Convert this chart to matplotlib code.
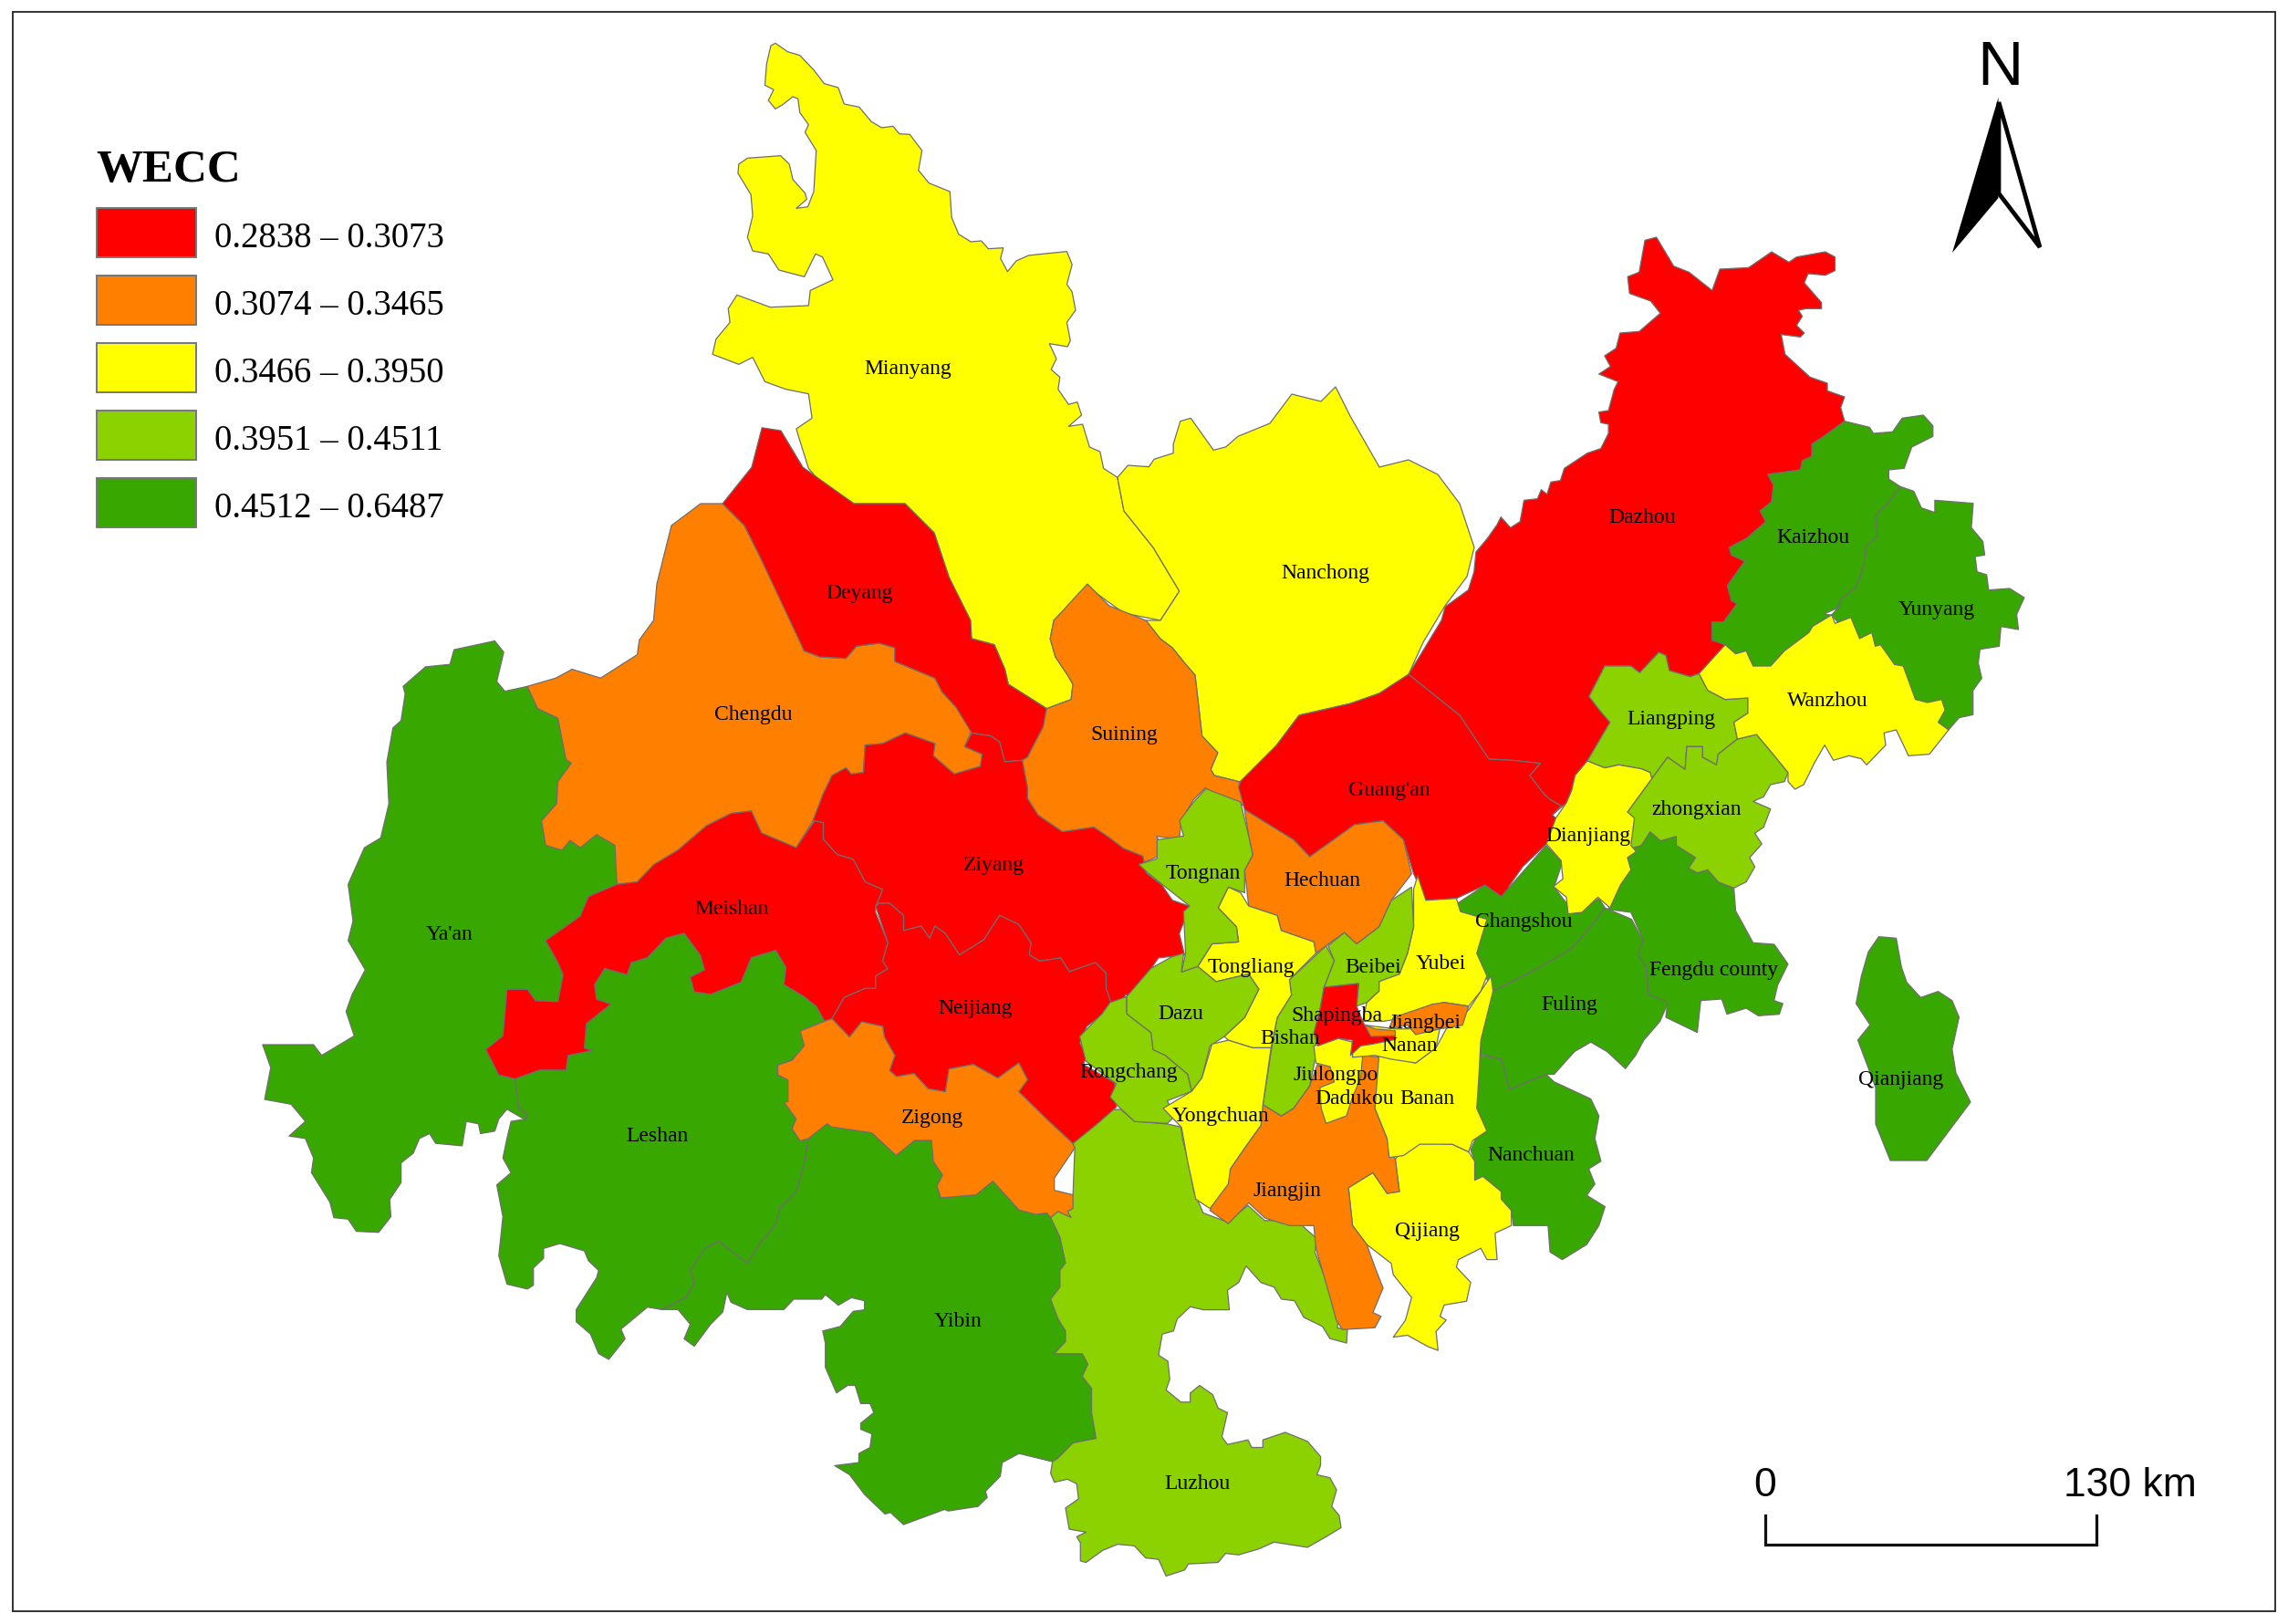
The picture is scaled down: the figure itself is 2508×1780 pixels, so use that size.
import matplotlib
matplotlib.use("Agg")
import matplotlib.pyplot as plt
from matplotlib.patches import Polygon, Rectangle

W, H = 2508, 1780
CLASS_LABELS = ["0.2838 – 0.3073", "0.3074 – 0.3465", "0.3466 – 0.3950", "0.3951 – 0.4511", "0.4512 – 0.6487"]
CLASS_COLORS = ["#ff0000", "#ff8000", "#ffff00", "#8cd200", "#38a800"]
LEGEND_TITLE = "WECC"
SCALE_LABELS = ["0", "130 km"]

# Outlines were read on several sheets; each sheet is origin x, origin y, x scale, y scale.
SHEETS = {
    "S": (0, 0, 1.6, 1.6),
    "Z": (1150, 850, 700 / 1568, 650 / 1568),
    "A": (760, 30, 600 / 1568, 1 / 3),
    "B": (1650, 650, 600 / 1568, 1 / 3),
    "C": (780, 700, 600 / 1568, 1 / 3),
    "W": (270, 680, 700 / 1568, 840 / 1568),
    "L": (870, 1230, 640 / 1568, 520 / 1568),
    "D": (1580, 250, 660 / 1568, 1 / 3),
}

YAAN = [("W", [(510,60),(610,42),(632,65),(615,125),(635,145),(690,135),(715,180),(765,200),(785,285),(798,292),(765,330),(762,375),(725,410),(735,460),(775,470),(795,450),(820,465),(860,438),(905,460),(910,540),(840,565),(820,605),(735,655),(765,700),(778,725),(765,780),(710,778),(690,755),(640,755),(630,850),(588,878),(620,930),(660,938),(670,1000),(690,1010),(685,1022),(640,1000),(620,1020),(610,1045),(575,1050),(570,1030),(540,1025),(530,1075),(465,1070),(450,1050),(425,1060),(410,1090),(380,1110),(380,1150),(352,1185),(355,1220),(325,1252),(270,1250),(250,1225),(215,1222),(205,1190),(175,1150),(160,1130),(165,1100),(145,1060),(105,1055),(145,1025),(110,990),(45,980),(60,915),(40,868),(165,868),(185,890),(265,850),(245,800),(260,765),(292,715),(250,655),(262,615),(250,540),(290,465),(330,445),(350,375),(345,290),(360,220),(380,205),(390,150),(385,135),(440,95),(500,90)])]
LESHAN = [("W", [(660,938),(720,920),(785,920),(790,890),(850,880),(830,875),(835,825),(895,785),(860,775),(855,745),(880,712),(935,725),(945,700),(985,690),(1030,650),(1075,640),(1115,685),(1125,715),(1090,730),(1100,760),(1140,765),(1215,740),(1240,690),(1300,675),(1325,710),(1320,745),(1370,770),(1400,790),(1420,820),(1360,840),(1370,870),(1340,900),(1305,910),(1305,930),(1330,940),(1330,985),(1320,985),(1350,1020),(1340,1040),(1360,1065),(1380,1060),(1370,1110),(1350,1170),(1310,1200),(1300,1235),(1260,1275),(1230,1315),(1160,1270),(1125,1285),(1090,1330),(1100,1355),(1080,1385),(1020,1410),(985,1405),(920,1450),(930,1470),(890,1512),(865,1500),(845,1460),(810,1435),(810,1410),(860,1345),(865,1330),(840,1310),(830,1290),(770,1275),(730,1285),(730,1305),(705,1325),(705,1360),(690,1368),(640,1358),(620,1300),(630,1220),(615,1155),(650,1130),(630,1100),(640,1060),(650,1025),(688,1020),(690,1008),(670,1000)])]
YIBIN = [("L", [(690,315),(715,380),(730,465),(715,490),(715,545),(690,585),(710,650),(730,690),(730,725),(700,765),(775,765),(790,800),(775,840),(800,880),(800,960),(812,1045),(750,1060),(710,1110),(695,1122),(605,1095),(560,1125),(555,1170),(515,1220),(520,1240),(495,1270),(415,1285),(405,1280),(350,1305),(295,1330),(260,1290),(245,1295),(190,1230),(150,1165),(110,1135),(175,1125),(175,1095),(205,1075),(210,1030),(180,1015),(180,995),(215,960),(205,930),(180,930),(165,870),(145,870),(115,895),(85,810),(85,730),(78,690),(125,675),(160,625),(190,620),(190,590),(155,580),(120,605),(85,570),(75,585),(0,585)]), ("W", [(1320,1410),(1230,1410),(1190,1395),(1180,1375),(1170,1415),(1140,1440),(1100,1485),(1075,1470),(1090,1440),(1060,1410),(1020,1410),(1080,1385),(1100,1355),(1090,1330),(1125,1285),(1160,1270),(1230,1315),(1260,1275),(1300,1235),(1310,1200),(1350,1170),(1370,1110),(1380,1060),(1420,1030)]), ("L", [(90,5),(100,15),(210,35),(275,110),(325,60),(370,60),(375,130),(400,175),(385,210),(395,250),(490,240),(535,195),(605,290),(650,305),(680,300)])]
LUZHOU = [("S", [(735,783),(760,760),(768,760),(777,768),(800,770),(809,772)]), ("L", [(1045,60),(1060,130),(1075,230),(1100,300),(1165,330),(1220,275),(1265,325),(1350,325),(1405,385),(1400,430),(1445,570),(1465,620),(1460,680),(1487,685),(1485,730),(1440,715),(1420,675),(1370,645),(1345,590),(1310,585),(1290,545),(1255,530),(1215,475),(1195,530),(1165,555),(1170,620),(1100,620),(1065,610),(1030,650),(1020,690),(990,700),(980,770),(1005,790),(1010,850),(1000,885),(1040,925),(1065,925),(1065,895),(1090,870),(1125,900),(1140,945),(1165,960),(1150,1040),(1165,1065),(1220,1050),(1230,1075),(1260,1075),(1260,1050),(1320,1025),(1380,1055),(1415,1105),(1415,1135),(1405,1165),(1440,1175),(1458,1215),(1445,1270),(1465,1300),(1470,1340),(1430,1370),(1380,1405),(1290,1388),(1250,1410),(1195,1430),(1160,1425),(1140,1455),(1060,1460),(1050,1480),(1000,1500),(980,1445),(945,1440),(915,1400),(870,1395),(830,1415),(785,1455),(770,1450),(770,1390),(760,1370),(785,1355),(740,1345),(730,1275),(765,1245),(760,1195),(735,1180),(700,1190),(690,1160),(695,1122),(710,1110),(750,1060),(812,1045),(800,960),(800,880),(775,840),(790,800),(775,765),(700,765),(730,725),(730,690),(710,650),(690,585),(715,545),(715,490),(730,465),(715,380),(690,315),(750,240),(755,85)])]
MIANYANG = [
    ("A", [(235,52),(270,80),(305,92),(345,140),(375,185),(415,198),(432,252),(475,262),(510,310),(540,330),(572,325),(590,350),(620,352),(655,405),(645,470),(675,512),(735,540),(740,625),(760,680),(795,705),(825,702),(845,728),(888,725),(880,760),(900,803),(925,768),(960,750),(1000,745),(1070,737),(1085,780),(1070,845),(1085,870),(1095,930),(1070,970),(1080,1030),(1072,1050),(1020,1040),(1040,1090),(1025,1125),(1050,1150),(1045,1190),(1075,1240),(1100,1232),(1112,1275),(1075,1312),(1115,1305),(1135,1380),(1165,1395),(1175,1450),(1215,1480)]),
    ("S", [(770,350),(790,375),(808,405),(795,425),(770,420),(745,402),(722,425)]),
    ("C", [(970,0),(985,60),(1020,120),(1035,150),(1030,200),(960,230),(850,150),(840,100),(810,20),(745,0)]),
    ("S", [(650,395),(640,365),(620,345),(585,345)]),
    ("A", [(360,1490),(330,1450),(300,1340),(295,1320),(340,1285),(330,1205),(265,1190),(205,1165),(170,1085),(130,1108),(55,1075),(65,1025),(105,970),(100,925),(125,880),(220,920),(330,915),(335,865),(400,830),(370,755),(350,745),(318,820),(245,798),(215,745),(170,735),(155,690),(170,620),(165,550),(128,480),(130,450),(155,430),(250,422),(275,450),(285,500),(320,545),(325,565),(295,595),(328,590),(345,540),(352,405),(320,345),(330,320),(305,280),(300,235),(285,228),(255,255),(235,268),(215,240),(230,205),(205,190),(210,120),(222,60)]),
]
NANCHONG = [("A", [(1215,1480),(1245,1440),(1305,1445),(1320,1420),(1375,1400),(1375,1370),(1395,1295),(1425,1285),(1490,1390),(1525,1380),(1560,1345)]), ("S", [(870,290),(885,270),(905,275),(915,265),(925,285),(945,320),(965,315),(985,325),(1000,345),(1010,375),(1005,395),(990,415),(975,440),(965,462),(945,475),(925,482),(890,490),(875,510),(855,535)]), ("C", [(1510,470),(1440,450),(1430,430),(1450,375),(1405,320),(1385,120),(1355,80),(1320,30),(1285,0)]), ("S", [(785,425),(795,425),(808,405),(790,375),(770,350)])]
SUINING = [("S", [(745,400),(760,415),(785,425)]), ("C", [(1285,0),(1320,30),(1355,80),(1385,120),(1405,320),(1450,375),(1430,430),(1440,450),(1510,470),(1530,550),(1450,530),(1415,490),(1380,530),(1345,600),(1340,660),(1275,650),(1300,705),(1240,735),(1235,715),(1180,690),(1140,655),(1095,620),(1005,635),(935,580),(905,525),(905,490),(890,400),(905,390),(950,290),(960,230),(1030,200),(1035,150),(1020,120),(985,60),(970,0)]), ("S", [(722,425)])]
DAZHOU = [("D", [(0,1290),(10,1245),(70,1190),(85,1130),(90,1065),(120,1020),(145,975),(155,950),(180,985),(205,965),(215,895),(250,890),(260,860),(275,875),(285,835),(310,830),(320,790),(380,740),(415,725),(435,675),(435,645),(415,640),(410,605),(435,600),(450,530),(460,505),(410,480),(440,455),(425,420),(455,395),(465,345),(515,340),(570,280),(545,240),(490,215),(485,160),(515,145),(530,40),(560,30),(605,125),(645,145),(705,205),(725,135),(800,130),(860,78),(905,112),(925,95),(1000,78),(1025,95),(1025,140),(1000,155),(955,150),(945,180),(990,245),(990,265),(950,265),(930,270),(940,290),(925,320),(945,345),(935,358),(885,350),(895,415),(960,490),(1005,510),(1005,535),(1050,555),(1040,590),(1050,635),(990,690),(965,710),(965,750),(940,765),(935,795),(850,810),(865,845),(860,900),(830,930),(845,965),(795,1020),(750,1050),(755,1075),(790,1095),(745,1175),(755,1225),(770,1235),(735,1295),(705,1295),(705,1355),(740,1370)]), ("B", [(555,265),(530,275),(470,255),(460,205),(440,195),(385,262),(360,240),(285,240),(240,340),(270,385),(300,425),(235,552),(200,600),(190,650),(175,690),(135,730),(160,700),(130,680),(110,660),(70,600),(100,560),(20,550)]), ("S", [(1020,520),(1000,490),(965,462)])]
GUANGAN = [("S", [(850,535),(875,510),(890,490),(925,482),(945,475),(965,462),(1000,490),(1020,520)]), ("B", [(20,550),(100,560),(70,600),(110,660),(130,680),(160,700),(135,730),(145,740),(118,825),(50,900),(10,965),(10,990)]), ("Z", [(1110,320),(1070,290),(1000,325),(925,330),(895,260),(870,170),(820,120),(750,130),(640,215),(600,170),(480,90),(465,30)])]
CHENGDU = [("S", [(480,345),(495,345),(510,360),(520,380),(545,430)]), ("C", [(265,40),(310,60),(385,65),(415,25),(480,15),(525,30),(525,75),(640,130),(660,175),(700,225),(745,300),(725,355),(775,380),(770,420),(695,445),(635,385),(640,345),(555,310),(490,345),(440,350),(435,440),(400,445),(385,425),(345,450),(320,510),(290,600)]), ("W", [(1350,465),(1265,435),(1240,390),(1190,395),(1130,420),(1060,470),(1000,500),(960,535),(910,540),(905,460),(860,438),(820,465),(795,450),(775,470),(735,460),(725,410),(762,375),(765,330),(798,292),(785,285),(765,200),(715,180),(690,135),(760,118),(800,100),(870,118),(960,70),(965,40),(1000,0)]), ("S", [(450,400),(460,360)])]
DEYANG = [("S", [(522,293),(535,295),(550,320),(585,345),(620,345),(640,365),(650,395),(665,425)]), ("C", [(745,0),(810,20),(840,100),(850,150),(960,230),(950,290),(905,390),(890,400),(840,405),(825,340),(800,320),(770,315),(745,310),(700,225),(660,175),(640,130),(525,75),(525,30),(480,15),(415,25),(385,65),(310,60),(265,40)]), ("S", [(520,380),(510,360),(495,345),(515,320)])]
ZIYANG = [("C", [(290,600),(320,510),(345,450),(385,425),(400,445),(435,440),(440,350),(490,345),(555,310),(640,345),(635,385),(695,445),(770,420),(775,380),(725,355),(745,310),(770,315),(800,320),(825,340),(840,405),(890,400),(905,490),(905,525),(935,580),(1005,635),(1095,620),(1140,655),(1180,690),(1235,715),(1245,770),(1290,810),(1320,860),(1370,880),(1340,970),(1355,1040),(1280,1050),(1250,1100),(1245,1150),(1220,1190),(1185,1170),(1180,1205),(1145,1200),(1130,1150),(1130,1100),(1100,1065),(1025,1095),(1000,1050),(940,1060),(910,1040),(915,1000),(880,940),(825,910),(780,990),(710,1040),(670,970),(640,945),(625,985),(600,945),(550,960),(550,910),(510,870),(480,870),(470,880),(490,825),(440,800),(405,725),(360,710),(320,660),(320,605)])]
MEISHAN = [("W", [(1395,410),(1350,465),(1265,435),(1240,390),(1190,395),(1130,420),(1060,470),(1000,500),(960,535),(910,540),(840,565),(820,605),(735,655),(765,700),(778,725),(765,780),(710,778),(690,755),(640,755),(630,850),(588,878),(620,930),(660,938),(720,920),(785,920),(790,890),(850,880),(830,875),(835,825),(895,785),(860,775),(855,745),(880,712),(935,725),(945,700),(985,690),(1030,650),(1075,640),(1115,685),(1125,715),(1090,730),(1100,760),(1140,765),(1215,740),(1240,690),(1300,675),(1325,710),(1320,745),(1370,770),(1400,790),(1420,820)]), ("C", [(345,1250),(380,1180),(440,1150),(470,1150),(470,1110),(505,1085),(490,1060),(505,1000),(470,900),(470,880),(490,825),(440,800),(405,725),(360,710),(320,660),(320,605)])]
NEIJIANG = [("C", [(470,880),(480,870),(510,870),(550,910),(550,960),(600,945),(625,985),(640,945),(670,970),(710,1040),(780,990),(825,910),(880,940),(915,1000),(910,1040),(940,1060),(1000,1050),(1025,1095),(1100,1065),(1130,1100),(1130,1150),(1145,1200),(1115,1240),(1075,1275),(1055,1330),(1075,1370),(1065,1400),(1155,1460),(1160,1540),(1100,1600),(1035,1660),(960,1580),(880,1490),(905,1450),(880,1395),(820,1445),(750,1400),(680,1415),(670,1490),(620,1480),(580,1430),(530,1440),(510,1420),(525,1370),(495,1310),(490,1275),(430,1260),(395,1310),(345,1250),(380,1180),(440,1150),(470,1150),(470,1110),(505,1085),(490,1060),(505,1000)])]
ZIGONG = [("C", [(345,1250),(395,1310),(430,1260),(490,1275),(495,1310),(525,1370),(510,1420),(530,1440),(580,1430),(620,1480),(670,1490),(680,1415),(750,1400),(820,1445),(880,1395),(905,1450),(880,1490),(960,1580),(1035,1660)]), ("L", [(750,70),(755,85),(700,185),(700,225),(750,240),(750,285),(735,295),(745,315),(710,295),(690,315),(680,300),(650,305),(605,290),(535,195),(490,240),(395,250),(385,210),(400,175),(375,130),(370,60),(325,60),(275,110),(210,35),(100,15),(90,5)]), ("W", [(1380,1060),(1360,1065),(1340,1040),(1350,1020),(1320,985),(1330,985),(1330,940),(1305,930),(1305,910),(1340,900),(1370,870),(1360,840),(1420,820)])]
LIANGPING = [("B", [(240,340),(285,240),(360,240),(385,262),(440,195),(460,205),(470,255),(530,275),(555,265),(580,320),(630,350),(695,345),(695,395),(655,425),(665,480),(610,530),(605,565),(565,540),(565,505),(520,505),(515,580),(465,540),(420,610),(415,590),(390,578),(325,565),(285,575),(235,552),(300,425),(270,385)])]
ZHONGXIAN = [("B", [(465,540),(515,580),(520,505),(565,505),(565,540),(605,565),(610,530),(665,480),(720,465),(760,520),(810,590),(800,620),(760,630),(740,670),(710,685),(760,710),(740,770),(715,790),(735,825),(700,870),(715,900),(690,950),(655,970),(610,950),(580,910),(550,920),(525,905),(545,870),(490,830),(490,800),(445,815),(415,785),(390,830),(360,840),(350,720),(420,610)])]
WANZHOU = [("B", [(555,265),(630,170),(660,200),(690,190),(710,240),(760,240),(800,190),(870,130),(880,110),(935,72),(945,100),(990,80),(1015,150),(1050,130),(1060,175),(1075,170),(1115,235),(1140,240),(1175,350),(1210,360),(1250,350),(1260,385),(1240,425),(1270,450),(1215,530),(1155,535),(1120,450),(1085,460),(1090,500),(1035,565),(1020,545),(985,535),(940,550),(915,500),(885,560),(855,630),(830,645),(810,620),(810,590),(760,520),(720,465),(665,480),(655,425),(695,395),(695,345),(630,350),(580,320)])]
DIANJIANG = [("B", [(235,552),(285,575),(325,565),(390,578),(415,590),(420,610),(350,720),(370,740),(360,830),(375,850),(350,870),(360,910),(330,960),(300,1035),(265,1000),(220,1050),(180,1055),(175,1000),(138,965),(165,940),(160,880),(118,825),(145,740),(175,690),(190,650),(200,600)])]
KAIZHOU = [("D", [(1050,635),(1115,655),(1125,675),(1175,670),(1200,625),(1255,615),(1280,650),(1280,685),(1225,720),(1205,790),(1165,795),(1165,825),(1195,850),(1165,900),(1130,945),(1135,1010),(1105,1050),(1100,1110),(1080,1180),(1040,1220),(1030,1250),(995,1270)]), ("B", [(935,72),(880,110),(870,130),(800,190),(760,240),(710,240),(690,190),(660,200),(630,170)]), ("D", [(705,1355),(705,1295),(735,1295),(770,1235),(755,1225),(745,1175),(790,1095),(755,1075),(750,1050),(795,1020),(845,965),(830,930),(860,900),(865,845),(850,810),(935,795),(940,765),(965,750),(965,710),(990,690)])]
YUNYANG = [("D", [(1195,850),(1230,865),(1250,920),(1285,935),(1285,895),(1385,905),(1380,985),(1410,1030),(1415,1075),(1390,1080),(1395,1130),(1420,1140),(1425,1190),(1480,1185),(1518,1215)]), ("B", [(1465,70),(1470,120),(1420,110),(1415,175),(1360,185),(1355,230),(1365,280),(1340,320),(1340,400),(1300,410),(1270,450),(1100,300),(935,72),(960,40)]), ("D", [(1030,1250),(1040,1220),(1080,1180),(1100,1110),(1105,1050),(1135,1010),(1130,945),(1165,900)])]
FENGDU = [("B", [(375,850),(360,840),(390,830),(415,785),(445,815),(490,800),(490,830),(545,870),(525,905),(550,920),(580,910),(610,950),(655,970),(660,1045),(710,1150),(770,1155),(810,1220),(780,1290),(770,1340),(795,1350),(785,1385),(725,1390),(690,1365),(635,1385),(620,1335),(560,1340),(550,1445),(460,1395),(465,1345),(410,1320),(405,1230),(380,1190),(395,1140),(360,1050),(295,1040),(330,960),(360,910),(350,870)])]
QIANJIANG = [("B", [(1070,1130),(1120,1135),(1135,1230),(1150,1280),(1190,1330),(1240,1310),(1280,1340),(1300,1395),(1280,1500)]), ("S", [(1340,735),(1350,755),(1335,775),(1320,795),(1295,795),(1285,770),(1285,745)]), ("B", [(1010,1470),(1045,1420),(1005,1350),(1020,1260),(1040,1180)])]
CHANGSHOU = [("Z", [(1000,340),(1070,290),(1110,320),(1220,185),(1260,230),(1240,295),(1290,365),(1350,325),(1365,350),(1330,400),(1280,460),(1200,510),(1090,570),(1045,475),(1060,380),(1010,360)])]
FULING = [("Z", [(1075,570),(1090,570),(1200,510),(1280,460),(1330,400),(1365,350),(1430,380),(1460,440),(1470,570),(1520,600),(1500,650),(1460,700),(1440,740),(1415,775),(1370,730),(1330,705),(1290,730),(1240,790),(1220,790),(1130,830),(1110,750),(1055,735),(1040,730),(1040,700)])]
NANCHUAN = [("Z", [(1040,735),(1110,750),(1130,830),(1220,790),(1240,810),(1330,855),(1350,900),(1340,960),(1355,1020),(1325,1040),(1340,1080),(1320,1110),(1365,1140),(1350,1190),(1320,1240),(1260,1280),(1230,1260),(1225,1190),(1140,1190),(1135,1150),(1110,1120),(1110,1100),(1065,1060),(1045,1070),(1045,1020),(1035,990),(1045,965),(1060,940),(1040,880)])]
YUBEI = [("Z", [(905,265),(925,330),(1000,325),(1010,360),(1075,380),(1050,470),(1075,530),(1060,570),(1030,610),(970,600),(930,610),(880,640),(820,650),(770,650),(780,600),(810,570),(810,540),(860,525),(880,470),(895,400),(895,300)])]
BANAN = [("Z", [(1085,530),(1090,570),(1060,700),(1055,800),(1050,880),(1075,940),(1040,965),(1030,995),(990,975),(910,975),(870,1005),(835,1010),(830,960),(800,880),(810,740),(900,760),(950,720),(975,670),(1030,620),(1060,570)])]
NANAN = [("Z", [(745,745),(745,705),(775,660),(850,670),(880,670),(960,665),(950,720),(900,760),(840,750),(800,740)])]
JIANGBEI = [("Z", [(1030,610),(1015,660),(960,670),(900,685),(880,660),(835,670),(845,640),(900,620),(940,605),(970,600)])]
JIANGBEI_TAIL = [("Z", [(765,655),(800,670),(850,675),(850,690),(790,695),(775,680)])]
SHAPINGBA = [("Z", [(675,560),(760,550),(755,610),(770,650),(790,690),(850,688),(850,698),(795,710),(765,715),(740,740),(745,700),(710,695),(660,715),(650,680),(665,620)])]
BEIBEI = [("Z", [(685,450),(725,415),(755,445),(810,400),(840,330),(890,295),(895,400),(880,470),(860,525),(810,545),(810,570),(780,600),(755,610),(760,550),(675,560),(700,490)])]
BISHAN = [("Z", [(680,450),(700,490),(675,560),(655,680),(655,740),(640,820),(600,880),(570,900),(525,870),(545,730),(560,640),(595,580),(590,540),(640,490)])]
TONGLIANG = [("Z", [(440,295),(470,310),(490,345),(560,370),(570,410),(650,440),(655,470),(590,540),(595,580),(560,640),(545,720),(500,720),(440,700),(430,690),(480,640),(515,565),(490,525),(410,545),(365,505),(400,445),(465,440),(460,400),(415,350)])]
TONGNAN = [("Z", [(385,35),(470,70),(490,160),(500,210),(480,250),(480,310),(440,295),(415,350),(460,400),(465,440),(400,445),(365,505),(325,520),(335,470),(330,360),(345,345),(280,290),(240,255),(220,235),(265,220),(265,170),(330,160),(320,120),(355,70)])]
HECHUAN = [("Z", [(480,90),(600,170),(640,215),(750,130),(820,120),(870,170),(890,260),(840,330),(810,400),(755,445),(725,415),(680,450),(655,470),(650,440),(570,410),(560,370),(490,345),(480,250),(500,210),(490,160)])]
DAZU = [("Z", [(330,470),(325,520),(365,505),(410,545),(490,525),(515,565),(480,640),(430,690),(395,715),(375,800),(350,835),(340,790),(285,740),(255,725),(250,680),(190,630),(190,585),(250,510),(300,480)])]
RONGCHANG = [("Z", [(190,585),(190,630),(250,680),(255,725),(285,740),(340,790),(350,835),(290,860),(310,900),(290,920),(210,915),(170,875),(150,850),(165,815),(90,755),(75,690),(130,630),(150,600)])]
YONGCHUAN = [("Z", [(400,710),(440,700),(500,720),(545,720),(525,870),(520,925),(480,985),(445,1040),(440,1080),(395,1145),(360,1120),(340,1020),(325,930),(280,880),(350,835),(375,800)])]
JIANGJIN = [("Z", [(525,870),(570,900),(600,880),(640,820),(660,760),(690,770),(700,810),(730,790),(770,740),(815,745),(800,880),(830,960),(850,1015),(860,1100),(830,1105),(795,1050),(735,1090),(745,1190),(780,1240),(800,1300),(820,1355),(795,1420),(815,1430),(800,1460),(720,1465),(705,1440),(690,1380),(655,1250),(650,1190),(590,1190),(530,1170),(490,1130),(440,1185),(395,1150),(420,1090),(445,1040),(480,985),(520,925)])]
JIULONGPO = [("Z", [(650,715),(710,695),(745,705),(745,740),(770,740),(765,800),(745,850),(730,900),(680,920),(668,880),(665,825),(700,810),(690,770),(655,760)])]
QIJIANG = [("Z", [(850,1015),(870,985),(910,970),(990,975),(1030,995),(1045,1020),(1045,1070),(1065,1060),(1110,1100),(1110,1120),(1135,1150),(1135,1190),(1095,1210),(1100,1280),(1075,1280),(1060,1250),(1005,1280),(1000,1300),(1035,1340),(1025,1390),(970,1400),(960,1430),(975,1440),(950,1470),(955,1520),(930,1510),(880,1480),(845,1485),(875,1440),(890,1380),(845,1320),(840,1290),(780,1240),(745,1190),(735,1090),(795,1050),(830,1105),(860,1100)])]

# painting order: class index, outline
REGIONS = [
    (4, YAAN), (4, YIBIN), (4, LESHAN), (3, LUZHOU), (2, MIANYANG), (2, NANCHONG), (1, CHENGDU), (0, DEYANG),
    (1, SUINING), (0, ZIYANG), (0, MEISHAN), (0, NEIJIANG), (1, ZIGONG), (0, DAZHOU), (0, GUANGAN),
    (4, YUNYANG), (4, KAIZHOU), (4, QIANJIANG), (4, CHANGSHOU), (4, FULING), (4, FENGDU), (3, LIANGPING),
    (3, ZHONGXIAN), (2, WANZHOU), (2, DIANJIANG), (4, NANCHUAN), (2, QIJIANG), (1, JIANGJIN), (2, BANAN),
    (2, YUBEI), (3, BEIBEI), (3, BISHAN), (1, HECHUAN), (2, TONGLIANG), (3, TONGNAN), (3, DAZU), (3, RONGCHANG),
    (2, YONGCHUAN), (2, JIULONGPO), (2, NANAN), (1, JIANGBEI), (1, JIANGBEI_TAIL), (0, SHAPINGBA),
]

LABEL_NAMES = ["Mianyang","Nanchong","Dazhou","Kaizhou","Yunyang","Deyang","Chengdu","Suining","Wanzhou","Liangping","zhongxian","Guang'an","Dianjiang","Ziyang","Meishan","Ya'an","Tongnan","Hechuan","Changshou","Fengdu county","Tongliang","Beibei","Yubei","Neijiang","Dazu","Shapingba","Jiangbei","Fuling","Bishan","Nanan","Rongchang","Jiulongpo","Dadukou","Banan","Zigong","Leshan","Yongchuan","Nanchuan","Qianjiang","Jiangjin","Qijiang","Yibin","Luzhou"]
LABEL_X = [622,908,1125,1242,1327,589,516,770,1252,1145,1162,952,1088,681,501,308,824,906,1044,1174,857,941,987,668,809,916,976,1075,884,966,773,915,928,978,639,450,836,1049,1302,882,978,656,820]
LABEL_Y = [252,392,354,368,417,406,489,503,480,492,554,541,572,592,622,640,598,603,631,664,662,662,660,690,694,695,700,688,711,716,734,736,752,752,765,778,764,791,739,815,843,905,1016]

plt.rcParams["font.family"] = ["Liberation Serif", "DejaVu Serif"]
fig = plt.figure(figsize=(W / 100, H / 100), dpi=100)
ax = fig.add_axes([0, 0, 1, 1])
ax.set_xlim(0, W)
ax.set_ylim(H, 0)
ax.axis("off")


def to_px(segments):
    out = []
    for sheet, points in segments:
        x0, y0, sx, sy = SHEETS[sheet]
        out.extend((x0 + x * sx, y0 + y * sy) for x, y in points)
    return out


for cls, outline in REGIONS:
    ax.add_patch(Polygon(to_px(outline), closed=True, facecolor=CLASS_COLORS[cls],
                         edgecolor="#6e6e6e", linewidth=0.9, joinstyle="round"))

for name, x, y in zip(LABEL_NAMES, LABEL_X, LABEL_Y):
    ax.text(x * 1.6, y * 1.6 + 1, name, ha="center", va="center", fontsize=17, color="black")

# frame
ax.add_patch(Rectangle((14, 13), 2480, 1753, fill=False, edgecolor="#222222", linewidth=1.3))

# legend
ax.text(105, 199, LEGEND_TITLE, fontsize=36.7, fontweight="bold", ha="left", va="baseline")
for i, (lab, col) in enumerate(zip(CLASS_LABELS, CLASS_COLORS)):
    top = 228 + i * 74
    ax.add_patch(Rectangle((106, top), 109, 54, facecolor=col, edgecolor="#777777", linewidth=1.4))
    ax.text(235, top + 43, lab, fontsize=27.9, ha="left", va="baseline")

# north arrow
ax.text(2192, 93, "N", fontsize=50, family="Liberation Sans", ha="center", va="baseline")
ax.add_patch(Polygon([(2191, 112), (2236, 271), (2191, 212)], closed=True, facecolor="white", edgecolor="black", linewidth=3.4, joinstyle="miter"))
ax.add_patch(Polygon([(2190.5, 107), (2190.5, 217), (2140, 277)], closed=True, facecolor="black", edgecolor="none"))

# scale bar
ax.plot([1935, 1935, 2298, 2298], [1661, 1693, 1693, 1661], color="#111111", linewidth=2.3, solid_joinstyle="miter")
ax.text(1935, 1640, SCALE_LABELS[0], fontsize=32, family="Liberation Sans", ha="center", va="baseline")
ax.text(2335, 1640, SCALE_LABELS[1], fontsize=32, family="Liberation Sans", ha="center", va="baseline")

fig.savefig("out.png", dpi=100, facecolor="white")
